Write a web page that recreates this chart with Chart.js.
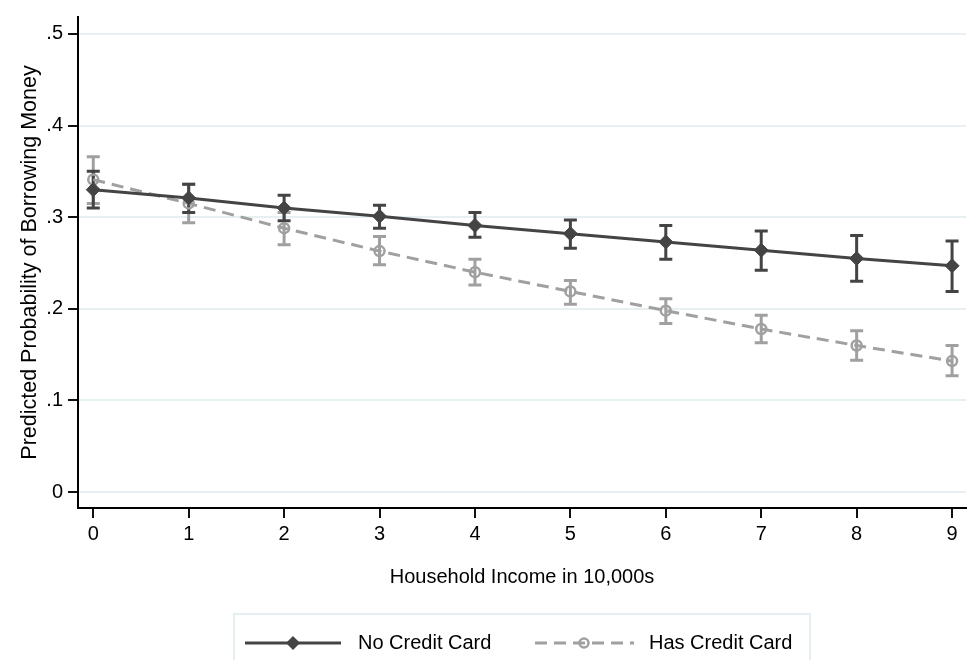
<!DOCTYPE html>
<html>
<head>
<meta charset="utf-8">
<script src="https://cdn.jsdelivr.net/npm/chart.js@4/dist/chart.umd.min.js"></script>
<style>
  html, body { margin: 0; padding: 0; background: #fff; }
  #wrap { width: 974px; height: 660px; }
</style>
</head>
<body>
<div id="wrap"><canvas id="probChart" width="974" height="660"></canvas></div>
<script>
// household income in 10,000s
const incomeLevels = [0, 1, 2, 3, 4, 5, 6, 7, 8, 9];

// No Credit Card: predicted probability and 95% CI
const noCardProb = [0.330, 0.321, 0.310, 0.301, 0.291, 0.282, 0.273, 0.264, 0.255, 0.247];
const noCardLow  = [0.310, 0.305, 0.296, 0.288, 0.278, 0.266, 0.254, 0.242, 0.230, 0.219];
const noCardHigh = [0.350, 0.336, 0.324, 0.313, 0.305, 0.297, 0.291, 0.285, 0.280, 0.274];

// Has Credit Card
const hasCardProb = [0.341, 0.315, 0.288, 0.263, 0.240, 0.219, 0.198, 0.178, 0.160, 0.143];
const hasCardLow  = [0.315, 0.294, 0.270, 0.248, 0.226, 0.205, 0.184, 0.163, 0.144, 0.127];
const hasCardHigh = [0.366, 0.336, 0.305, 0.279, 0.254, 0.231, 0.211, 0.193, 0.176, 0.160];

const yTicks = [0, 0.1, 0.2, 0.3, 0.4, 0.5];
const yTickLabels = ["0", ".1", ".2", ".3", ".4", ".5"];
const seriesNames = ["No Credit Card", "Has Credit Card"];

const DARK = "#444444";
const LIGHT = "#a0a0a0";
const FONT = "'Liberation Sans', Arial, Helvetica, sans-serif";

// whiskers with caps, drawn under the lines
const errorBars = {
  id: "errorBars",
  beforeDatasetsDraw(chart) {
    const { ctx, scales: { x, y } } = chart;
    for (let d = chart.data.datasets.length - 1; d >= 0; d--) {
      const ds = chart.data.datasets[d];
      ctx.save();
      ctx.strokeStyle = ds.borderColor;
      ctx.lineWidth = 3;
      ctx.setLineDash([]);
      ds.errLow.forEach((lo, i) => {
        const px = x.getPixelForValue(ds.data[i].x);
        const pLo = y.getPixelForValue(lo);
        const pHi = y.getPixelForValue(ds.errHigh[i]);
        ctx.beginPath();
        ctx.moveTo(px, pLo); ctx.lineTo(px, pHi);
        ctx.moveTo(px - 6.5, pLo); ctx.lineTo(px + 6.5, pLo);
        ctx.moveTo(px - 6.5, pHi); ctx.lineTo(px + 6.5, pHi);
        ctx.stroke();
      });
      ctx.restore();
    }
  }
};

// Stata-style boxed legend under the axis title
const boxLegend = {
  id: "boxLegend",
  afterDraw(chart) {
    const { ctx, chartArea } = chart;
    const cx = (chartArea.left + chartArea.right) / 2;
    const ly = 643;
    ctx.save();
    ctx.strokeStyle = "#dde9ec";
    ctx.lineWidth = 1.5;
    ctx.strokeRect(cx - 288, 614, 576, 60);

    // No Credit Card
    ctx.strokeStyle = DARK;
    ctx.lineWidth = 3;
    ctx.beginPath();
    ctx.moveTo(cx - 277, ly); ctx.lineTo(cx - 181, ly);
    ctx.stroke();
    ctx.fillStyle = DARK;
    ctx.beginPath();
    const dx = cx - 229;
    ctx.moveTo(dx - 7, ly); ctx.lineTo(dx, ly - 7); ctx.lineTo(dx + 7, ly); ctx.lineTo(dx, ly + 7);
    ctx.closePath();
    ctx.fill();

    // Has Credit Card
    ctx.strokeStyle = LIGHT;
    ctx.setLineDash([12, 7]);
    ctx.beginPath();
    ctx.moveTo(cx + 13, ly); ctx.lineTo(cx + 112, ly);
    ctx.stroke();
    ctx.setLineDash([]);
    ctx.lineWidth = 2.5;
    ctx.beginPath();
    ctx.arc(cx + 62, ly, 4.5, 0, Math.PI * 2);
    ctx.stroke();

    ctx.fillStyle = "#000";
    ctx.font = "20px " + FONT;
    ctx.textBaseline = "middle";
    ctx.textAlign = "left";
    ctx.fillText(seriesNames[0], cx - 164, ly);
    ctx.fillText(seriesNames[1], cx + 127, ly);
    ctx.restore();
  }
};

new Chart(document.getElementById("probChart").getContext("2d"), {
  type: "line",
  data: {
    datasets: [
      {
        label: seriesNames[0],
        data: incomeLevels.map((v, i) => ({ x: v, y: noCardProb[i] })),
        errLow: noCardLow,
        errHigh: noCardHigh,
        borderColor: DARK,
        backgroundColor: DARK,
        borderWidth: 3,
        pointStyle: "rectRot",
        pointRadius: 7,
        pointBorderWidth: 1,
        pointBackgroundColor: DARK,
        pointBorderColor: DARK,
        tension: 0,
        fill: false,
      },
      {
        label: seriesNames[1],
        data: incomeLevels.map((v, i) => ({ x: v, y: hasCardProb[i] })),
        errLow: hasCardLow,
        errHigh: hasCardHigh,
        borderColor: LIGHT,
        backgroundColor: "rgba(0,0,0,0)",
        borderWidth: 3,
        borderDash: [12, 7],
        pointStyle: "circle",
        pointRadius: 5,
        pointBorderWidth: 2.5,
        pointBackgroundColor: "rgba(0,0,0,0)",
        pointBorderColor: LIGHT,
        tension: 0,
        fill: false,
      },
    ],
  },
  options: {
    responsive: false,
    animation: false,
    layout: { padding: { top: 12, right: 4, bottom: 62, left: 0 } },
    scales: {
      x: {
        type: "linear",
        min: -0.16,
        max: 9.146,
        afterBuildTicks: (axis) => { axis.ticks = incomeLevels.map((v) => ({ value: v })); },
        afterFit: (axis) => { axis.height = 90; },
        border: { display: true, color: "#000", width: 2 },
        grid: { drawOnChartArea: false, drawTicks: true, tickLength: 10, tickColor: "#111", lineWidth: 2 },
        ticks: { color: "#000", font: { family: FONT, size: 20 }, padding: 4, maxRotation: 0 },
        title: {
          display: true,
          text: "Household Income in 10,000s",
          color: "#000",
          font: { family: FONT, size: 20 },
          padding: { top: 0, bottom: 9 },
        },
      },
      y: {
        min: -0.0173,
        max: 0.5184,
        afterBuildTicks: (axis) => { axis.ticks = yTicks.map((v) => ({ value: v })); },
        afterFit: (axis) => { axis.width = 78; },
        border: { display: true, color: "#000", width: 2 },
        grid: { color: "#e6f0f2", lineWidth: 2, drawTicks: true, tickLength: 10, tickColor: "#111" },
        ticks: {
          color: "#000",
          font: { family: FONT, size: 20 },
          padding: 5,
          callback: (v) => yTickLabels[yTicks.findIndex((t) => Math.abs(t - v) < 1e-9)],
        },
        title: {
          display: true,
          text: "Predicted Probability of Borrowing Money",
          color: "#000",
          font: { family: FONT, size: 21.5 },
          padding: { top: 17, bottom: 0 },
        },
      },
    },
    plugins: {
      legend: { display: false },
      tooltip: { enabled: false },
    },
  },
  plugins: [errorBars, boxLegend],
});
</script>
</body>
</html>
